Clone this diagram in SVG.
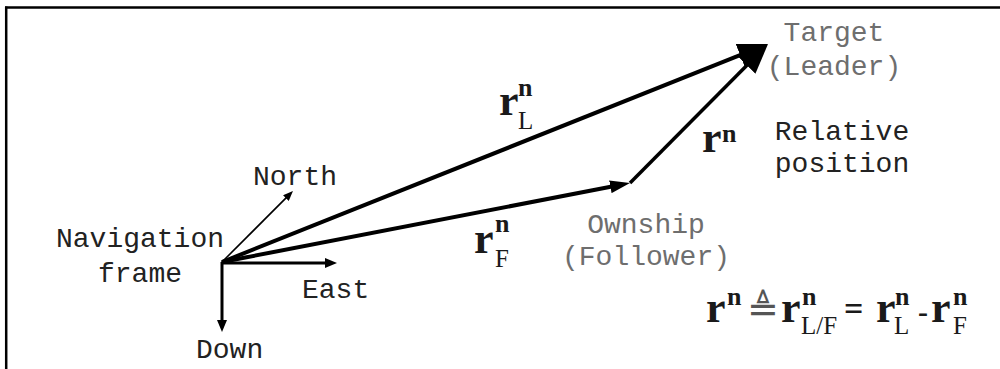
<svg xmlns="http://www.w3.org/2000/svg" width="1000" height="369" viewBox="0 0 1000 369">
  <style>
    .mono { font-family: "Liberation Mono", "Courier New", monospace; font-size: 28px; fill: #222; }
    .gray { fill: #6e6e6e; }
    .m { font-family: "Liberation Serif", "Times New Roman", serif; font-weight: bold; fill: #1a1a1a; }
    .r { font-size: 44px; }
    .sup { font-size: 26px; }
    .sub { font-size: 25px; font-weight: normal; }
    .ln { stroke: #000; fill: none; }
  </style>
  <defs>
    <marker id="hS" markerUnits="userSpaceOnUse" markerWidth="10" markerHeight="8" refX="1" refY="4" orient="auto">
      <path d="M0,0 L10,4 L0,8 z" fill="#000"/>
    </marker>
    <marker id="hE" markerUnits="userSpaceOnUse" markerWidth="12" markerHeight="10" refX="2" refY="5" orient="auto">
      <path d="M0,0 L12,5 L0,10 z" fill="#000"/>
    </marker>
    <marker id="hM" markerUnits="userSpaceOnUse" markerWidth="20" markerHeight="13" refX="3" refY="6.5" orient="auto">
      <path d="M0,0 L20,6.5 L0,13 z" fill="#000"/>
    </marker>
    <marker id="hL" markerUnits="userSpaceOnUse" markerWidth="30" markerHeight="24" refX="4" refY="12" orient="auto">
      <path d="M0,0 L30,12 L0,24 z" fill="#000"/>
    </marker>
  </defs>

  <rect width="1000" height="369" fill="#fff"/>
  <g id="frame-border" class="ln" stroke-width="2.5">
    <line x1="5" y1="7.5" x2="1000" y2="7.5"/>
    <line x1="6.2" y1="6.5" x2="6.2" y2="369"/>
  </g>

  <g id="connectors" class="ln">
    <line x1="222" y1="262" x2="286.6" y2="197.4" stroke-width="1.6" marker-end="url(#hS)"/>
    <line x1="221" y1="263" x2="327" y2="263" stroke-width="3" marker-end="url(#hE)"/>
    <line x1="222" y1="262" x2="222" y2="322" stroke-width="3" marker-end="url(#hE)"/>
    <line x1="222" y1="262" x2="613.3" y2="186.2" stroke-width="4" marker-end="url(#hM)"/>
    <line x1="222" y1="262" x2="743.8" y2="53.6" stroke-width="4" marker-end="url(#hL)"/>
    <line x1="630" y1="183" x2="749.7" y2="62.4" stroke-width="3.5" marker-end="url(#hL)"/>
  </g>

  <g id="navigation-frame">
    <text class="mono" x="140" y="247" text-anchor="middle">Navigation</text>
    <text class="mono" x="140" y="282" text-anchor="middle">frame</text>
  </g>
  <g id="north"><text class="mono" x="253" y="185">North</text></g>
  <g id="east"><text class="mono" x="302" y="298">East</text></g>
  <g id="down"><text class="mono" x="196" y="358">Down</text></g>

  <g id="target">
    <text class="mono gray" x="834" y="41" text-anchor="middle">Target</text>
    <text class="mono gray" x="834" y="75" text-anchor="middle">(Leader)</text>
  </g>
  <g id="relative-position">
    <text class="mono" x="842" y="140" text-anchor="middle" fill="#333">Relative</text>
    <text class="mono" x="842" y="172" text-anchor="middle" fill="#333">position</text>
  </g>
  <g id="ownship">
    <text class="mono gray" x="646" y="233" text-anchor="middle">Ownship</text>
    <text class="mono gray" x="646" y="265" text-anchor="middle">(Follower)</text>
  </g>

  <g id="label-rL" class="m">
    <text class="r" x="499" y="115">r</text>
    <text class="sup" x="518" y="96">n</text>
    <text class="sub" x="518" y="129">L</text>
  </g>
  <g id="label-rF" class="m">
    <text class="r" x="474" y="253">r</text>
    <text class="sup" x="495" y="232">n</text>
    <text class="sub" x="495" y="267">F</text>
  </g>
  <g id="label-rn" class="m">
    <text class="r" x="702" y="152">r</text>
    <text class="sup" x="722" y="142">n</text>
  </g>

  <g id="formula" class="m">
    <text class="r" x="706" y="322">r</text>
    <text class="sup" x="727" y="305">n</text>
    <text x="747" y="322" font-family="DejaVu Sans, sans-serif" font-weight="normal" font-size="38" fill="#555">≜</text>
    <text class="r" x="781" y="322">r</text>
    <text class="sup" x="802" y="305">n</text>
    <text class="sub" x="801" y="334" font-size="22">L/F</text>
    <text x="844" y="320" font-size="34">=</text>
    <text class="r" x="876" y="322">r</text>
    <text class="sup" x="895" y="305">n</text>
    <text class="sub" x="894" y="334">L</text>
    <text x="918" y="322" font-size="30">-</text>
    <text class="r" x="931" y="322">r</text>
    <text class="sup" x="953" y="305">n</text>
    <text class="sub" x="953" y="334">F</text>
  </g>
</svg>
